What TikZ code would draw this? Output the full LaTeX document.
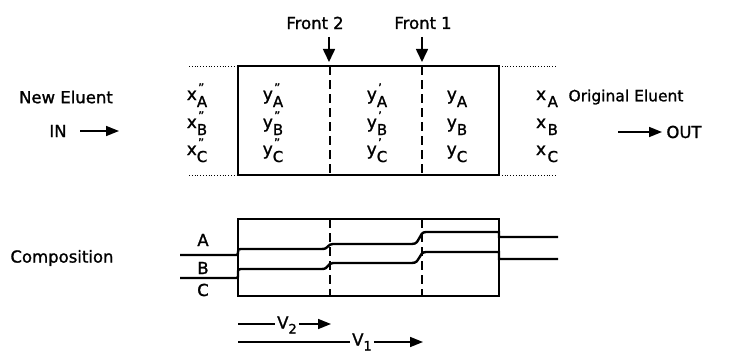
\documentclass[tikz,border=0pt]{standalone}
\usepackage{fontspec}
\setmainfont{DejaVu Sans}[FakeBold=1.3]
\usetikzlibrary{arrows.meta}
\newcommand\vsym[3]{#1\rlap{\raisebox{8pt}{\fontsize{12}{12}\selectfont\kern1.2pt#2}}\raisebox{-7pt}[\height][0pt]{\fontsize{15}{15}\selectfont #3}}
\newcommand\vsub[2]{#1\raisebox{-5pt}{\fontsize{13}{13}\selectfont #2}}
\tikzset{
  lbl/.style={inner sep=0pt, font=\fontsize{16.5}{18}\selectfont},
  varnode/.style={inner sep=0pt, anchor=base, font=\fontsize{17}{19}\selectfont},
  boxline/.style={line width=1.6pt},
  dashline/.style={line width=1.4pt, dash pattern=on 9pt off 5pt},
  dotline/.style={line width=0.8pt, dotted},
  curve/.style={line width=2.4pt},
  arr/.style={line width=1.6pt, -{Triangle[length=13pt,width=10pt]}},
  farr/.style={line width=1.6pt, -{Triangle[length=13pt,width=12pt]}},
}
\begin{document}
\begin{tikzpicture}[x=1pt,y=-1pt]
\useasboundingbox (0,0) rectangle (736,353);

% ---------- top box ----------
\coordinate (tl) at (238,66);
\coordinate (tr) at (499,66);
\coordinate (bl) at (238,175);
\coordinate (br) at (499,175);
\draw[boxline] (tl) rectangle (br);
\draw[dashline] (330,66) -- (330,175);
\draw[dashline] (422,66) -- (422,175);
\draw[dotline] (189,66) -- (tl);
\draw[dotline] (189,175) -- (bl);
\draw[dotline] (tr) -- (556,66);
\draw[dotline] (br) -- (556,175);

% fronts
\node[lbl] (front2) at (315,23) {Front\hspace{5pt}2};
\node[lbl] (front1) at (423,23) {Front\hspace{5pt}1};
\coordinate (f2s) at (329,37);
\coordinate (f2e) at (329,62);
\coordinate (f1s) at (422,37);
\coordinate (f1e) at (422,62);
\draw[farr] (f2s) -- (f2e);
\draw[farr] (f1s) -- (f1e);

% variables
\foreach \r/\yy in {A/100,B/128,C/155}{
  \node[varnode] (xpp\r) at (197,\yy) {\vsym{x}{\char"22}{\r}};
  \node[varnode] (ypp\r) at (273,\yy) {\vsym{y}{\char"22}{\r}};
  \node[varnode] (yp\r)  at (377,\yy) {\vsym{y}{\char"27}{\r}};
  \node[varnode] (y\r)   at (457,\yy) {\vsym{y}{}{\r}};
  \node[varnode] (x\r)   at (547,\yy) {\vsym{x\kern1.5pt}{}{\r}};
}

% side labels
\node[lbl] (newel) at (66,97) {New Eluent};
\node[lbl] (in) at (58,131) {IN};
\coordinate (ins) at (80,131);
\coordinate (ine) at (119,131);
\draw[arr] (ins) -- (ine);
\node[lbl, font=\fontsize{15.5}{18}\selectfont] (origel) at (626,97) {Original Eluent};
\coordinate (outs) at (618,132);
\coordinate (oute) at (662,132);
\draw[arr] (outs) -- (oute);
\node[lbl] (out) at (684,132) {OUT};

% ---------- composition ----------
\node[lbl] (comp) at (62,258) {Composition};
\draw[boxline] (238,219) rectangle (499,296);
\draw[dashline] (330,219) -- (330,296);
\draw[dashline] (422,219) -- (422,296);

% line A
\draw[curve] (180,255) -- (236,255) .. controls (238,255) and (238,255) .. (238,252)
  .. controls (238,249) and (238,249) .. (241,249) -- (322,249)
  .. controls (329,249) and (327,244) .. (333,244) -- (412,244)
  .. controls (421,244) and (418,232) .. (426,232) -- (499,232) -- (499,237) -- (558,237);
% line B
\draw[curve] (180,278) -- (236,278) .. controls (238,278) and (238,278) .. (238,274)
  .. controls (238,269) and (238,269) .. (241,269) -- (322,269)
  .. controls (329,269) and (327,263) .. (333,263) -- (412,263)
  .. controls (421,263) and (418,252) .. (426,252) -- (499,252) -- (499,259) -- (558,259);

\node[lbl] (la) at (203,240) {A};
\node[lbl] (lb) at (203,268) {B};
\node[lbl] (lc) at (203,290) {C};

% ---------- V arrows ----------
\node[lbl, inner sep=2pt] (v2) at (287,325) {\vsub{V}{2}};
\node[lbl, inner sep=2pt] (v1) at (362,342) {\vsub{V}{1}};
\coordinate (v2s) at (238,324);
\coordinate (v2e) at (331,324);
\coordinate (v1s) at (238,342);
\coordinate (v1e) at (423,342);
\draw[line width=1.6pt] (v2s) -- (v2s -| v2.west);
\draw[arr] (v2e -| v2.east) -- (v2e);
\draw[line width=1.6pt] (v1s) -- (v1s -| v1.west);
\draw[arr] (v1e -| v1.east) -- (v1e);
\end{tikzpicture}
\end{document}
